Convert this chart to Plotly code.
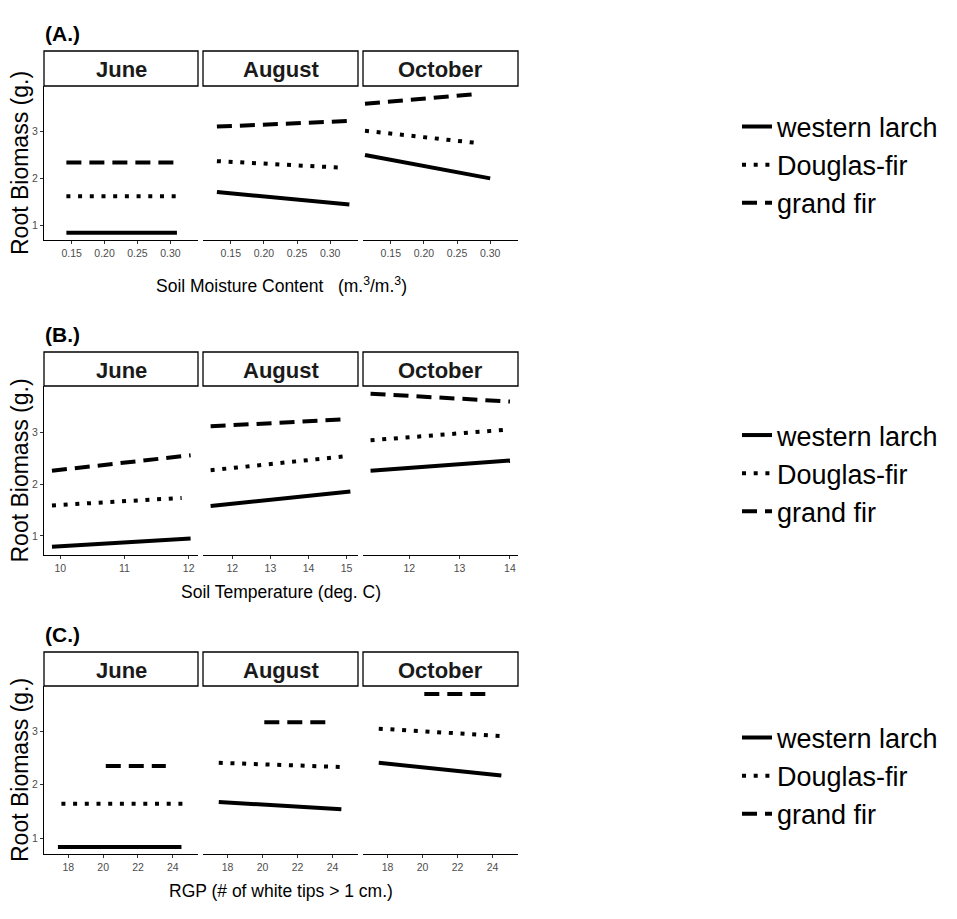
import plotly.graph_objects as go

# ---------------- data ----------------
MONTHS = ["June", "August", "October"]
SPECIES = ["western larch", "Douglas-fir", "grand fir"]
PANEL_LABELS = ["(A.)", "(B.)", "(C.)"]
X_TITLES = ["Soil Moisture Content   (m.<sup>3</sup>/m.<sup>3</sup>)",
            "Soil Temperature (deg. C)",
            "RGP (# of white tips &gt; 1 cm.)"]
Y_TITLE = "Root Biomass (g.)"

# Panel A: soil moisture  (per month: [x start, x end], [y start, y end])
A_LARCH_X = [[0.142, 0.310], [0.129, 0.329], [0.111, 0.300]]
A_LARCH_Y = [[0.835, 0.835], [1.71, 1.44], [2.50, 2.00]]
A_DFIR_X = [[0.142, 0.310], [0.129, 0.317], [0.111, 0.286]]
A_DFIR_Y = [[1.62, 1.62], [2.37, 2.23], [3.02, 2.75]]
A_GFIR_X = [[0.142, 0.310], [0.129, 0.329], [0.111, 0.283]]
A_GFIR_Y = [[2.34, 2.34], [3.11, 3.23], [3.60, 3.81]]

# Panel B: soil temperature
B_LARCH_X = [[9.87, 12.03], [11.43, 15.10], [11.23, 14.00]]
B_LARCH_Y = [[0.79, 0.95], [1.58, 1.86], [2.26, 2.46]]
B_DFIR_X = [[9.87, 11.89], [11.43, 15.09], [11.23, 14.00]]
B_DFIR_Y = [[1.59, 1.735], [2.27, 2.55], [2.85, 3.06]]
B_GFIR_X = [[9.87, 12.03], [11.43, 14.84], [11.23, 14.00]]
B_GFIR_Y = [[2.26, 2.56], [3.12, 3.25], [3.75, 3.60]]

# Panel C: RGP
C_LARCH_X = [[17.4, 24.5], [17.5, 24.5], [17.5, 24.5]]
C_LARCH_Y = [[0.83, 0.83], [1.675, 1.54], [2.41, 2.17]]
C_DFIR_X = [[17.6, 24.6], [17.5, 24.6], [17.5, 24.6]]
C_DFIR_Y = [[1.64, 1.64], [2.41, 2.33], [3.05, 2.91]]
C_GFIR_X = [[20.15, 23.6], [20.1, 23.6], [20.1, 23.6]]
C_GFIR_Y = [[2.35, 2.35], [3.17, 3.17], [3.70, 3.70]]

X_TICKS = [
    [[0.15, 0.20, 0.25, 0.30]] * 3,
    [[10, 11, 12], [12, 13, 14, 15], [12, 13, 14]],
    [[18, 20, 22, 24]] * 3,
]
X_TICKTEXT = [
    [["0.15", "0.20", "0.25", "0.30"]] * 3,
    [["10", "11", "12"], ["12", "13", "14", "15"], ["12", "13", "14"]],
    [["18", "20", "22", "24"]] * 3,
]
Y_TICKS = [1, 2, 3]

# ---------------- layout geometry (pixels) ----------------
W, H = 957, 919
COLS_PX = [(44, 198), (203, 358), (363, 518)]
ROWS_PX = [  # (strip top, plot top, plot bottom)
    (51, 86, 240),
    (352, 386, 555),
    (652, 686, 854),
]
LEGEND_SHIFT = [2, 3, 6]
X_RANGES = [
    [[0.108, 0.342]] * 3,
    [[9.746, 12.145], [11.23, 15.30], [11.08, 14.16]],
    [[16.6, 25.45]] * 3,
]
Y_RANGES = [[0.68, 3.98], [0.63, 3.90], [0.70, 3.85]]
DASHES = ["solid", "4px,7.7px", "15px,8px"]

FONT = "Liberation Sans, Arial, Helvetica"


def px_x(p):
    return p / W


def px_y(p):
    return 1 - p / H


data_x = [[A_LARCH_X, A_DFIR_X, A_GFIR_X],
          [B_LARCH_X, B_DFIR_X, B_GFIR_X],
          [C_LARCH_X, C_DFIR_X, C_GFIR_X]]
data_y = [[A_LARCH_Y, A_DFIR_Y, A_GFIR_Y],
          [B_LARCH_Y, B_DFIR_Y, B_GFIR_Y],
          [C_LARCH_Y, C_DFIR_Y, C_GFIR_Y]]

fig = go.Figure()
layout = dict(
    width=W, height=H, margin=dict(l=0, r=0, t=0, b=0),
    paper_bgcolor="white", plot_bgcolor="white", showlegend=True,
)
shapes = []
annotations = []
legend_names = ["legend", "legend2", "legend3"]

for r in range(3):
    st, pt, pb = ROWS_PX[r]
    for c in range(3):
        k = r * 3 + c + 1
        xa = "x" if k == 1 else f"x{k}"
        ya = "y" if k == 1 else f"y{k}"
        x0, x1 = COLS_PX[c]
        layout["xaxis" if k == 1 else f"xaxis{k}"] = dict(
            domain=[px_x(x0), px_x(x1)], anchor=ya, range=X_RANGES[r][c],
            tickvals=X_TICKS[r][c], ticktext=X_TICKTEXT[r][c],
            showline=True, linecolor="black", linewidth=1,
            ticks="outside", ticklen=3, tickcolor="#333333", tickwidth=1,
            showgrid=False, zeroline=False,
            tickfont=dict(family=FONT, size=10.5, color="#4d4d4d"),
        )
        first = c == 0
        layout["yaxis" if k == 1 else f"yaxis{k}"] = dict(
            domain=[px_y(pb), px_y(pt)], anchor=xa, range=Y_RANGES[r],
            tickvals=Y_TICKS if first else [],
            showticklabels=first,
            showline=first, linecolor="black", linewidth=1,
            ticks="outside" if first else "", ticklen=3, tickcolor="#333333",
            showgrid=False, zeroline=False,
            tickfont=dict(family=FONT, size=10.5, color="#4d4d4d"),
        )
        for s in range(3):
            fig.add_trace(go.Scatter(
                x=data_x[r][s][c], y=data_y[r][s][c], mode="lines",
                name=SPECIES[s], xaxis=xa, yaxis=ya,
                line=dict(color="black", width=4, dash=DASHES[s]),
                showlegend=first, legend=legend_names[r], hoverinfo="skip",
            ))
        # strip
        shapes.append(dict(type="rect", xref="paper", yref="paper",
                           x0=px_x(x0), x1=px_x(x1), y0=px_y(pt), y1=px_y(st),
                           line=dict(color="black", width=1.3),
                           fillcolor="white", layer="above"))
        annotations.append(dict(text=f"<b>{MONTHS[c]}</b>", xref="paper", yref="paper",
                                x=px_x((x0 + x1) / 2), y=px_y((st + pt) / 2 + 1),
                                xanchor="center", yanchor="middle", showarrow=False,
                                font=dict(family=FONT, size=22, color="#1a1a1a")))
    # panel label
    annotations.append(dict(text=f"<b>{PANEL_LABELS[r]}</b>", xref="paper", yref="paper",
                            x=px_x(43), y=px_y(st - 18), xanchor="left", yanchor="middle",
                            showarrow=False, font=dict(family=FONT, size=21, color="black")))
    # x title
    annotations.append(dict(text=X_TITLES[r], xref="paper", yref="paper",
                            x=px_x(281), y=px_y(pb + 37 if r != 0 else pb + 45),
                            xanchor="center", yanchor="middle", showarrow=False,
                            font=dict(family=FONT, size=17.5, color="black")))
    # y title
    annotations.append(dict(text=Y_TITLE, xref="paper", yref="paper",
                            x=px_x(20), y=px_y((pt + pb) / 2), textangle=-90,
                            xanchor="center", yanchor="middle", showarrow=False,
                            font=dict(family=FONT, size=23, color="black")))
    # legend
    lg = legend_names[r]
    layout[lg] = dict(x=px_x(737), y=px_y((pt + pb) / 2 + LEGEND_SHIFT[r]),
                      xanchor="left", yanchor="middle",
                      font=dict(family=FONT, size=27, color="black"),
                      bgcolor="rgba(0,0,0,0)", tracegroupgap=0, itemwidth=30)

layout["shapes"] = shapes
layout["annotations"] = annotations
fig.update_layout(**layout)
fig.write_html("out.html")
